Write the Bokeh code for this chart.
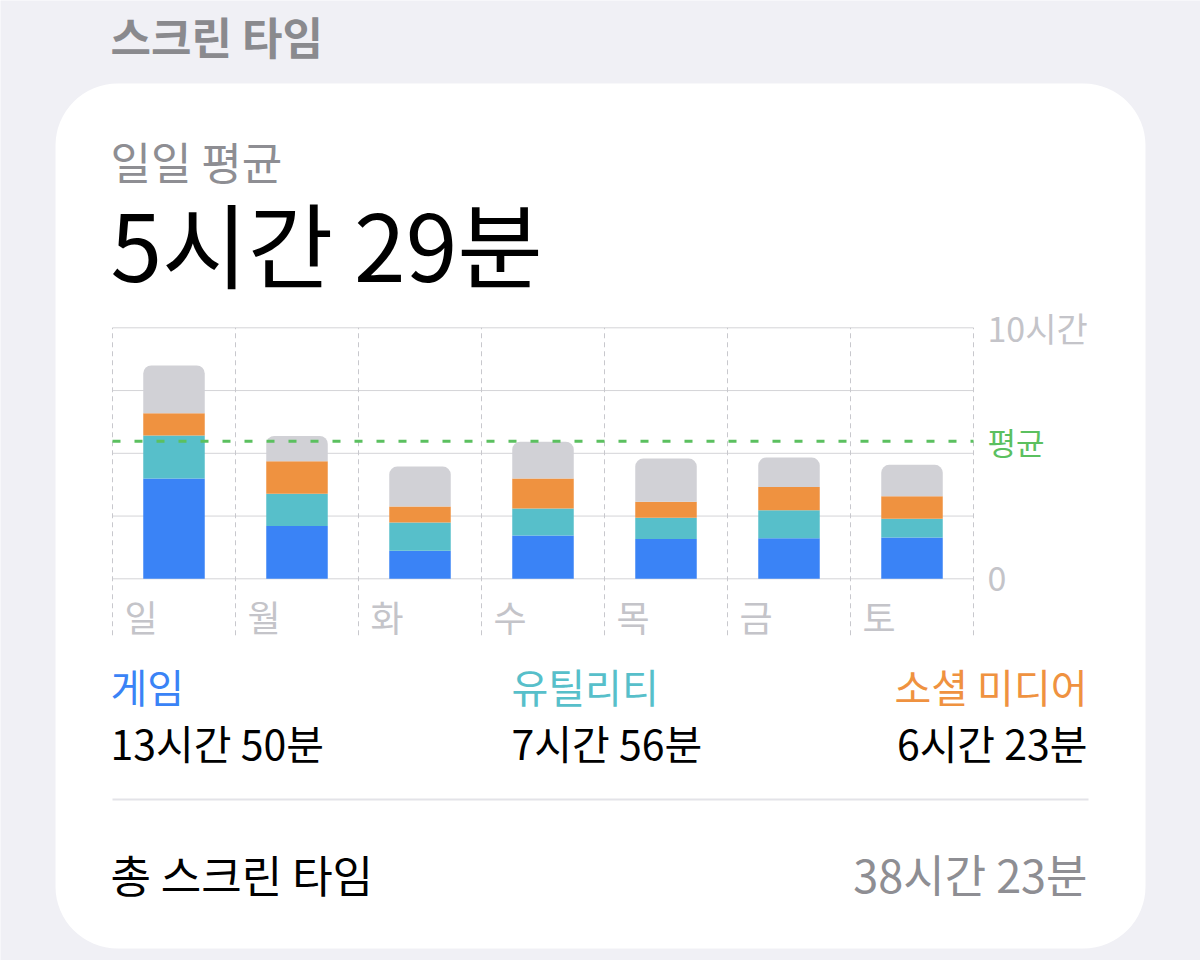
from bokeh.plotting import figure
from bokeh.models import Range1d, Grid, ColumnDataSource
from bokeh.core.properties import value
from bokeh.embed import file_html
from bokeh.resources import INLINE

# ---------------- data ----------------
days = ["일", "월", "화", "수", "목", "금", "토"]
game = [4.00, 2.10, 1.12, 1.73, 1.59, 1.62, 1.65]      # 게임 (hours)
util = [1.71, 1.29, 1.12, 1.07, 0.84, 1.11, 0.74]      # 유틸리티
social = [0.89, 1.29, 0.64, 1.20, 0.64, 0.93, 0.90]    # 소셜 미디어
other = [1.90, 1.01, 1.59, 1.46, 1.72, 1.17, 1.25]     # 기타
avg_hours = 5 + 29 / 60
avg_label = "평균"
y_ticks = [0, 10]
y_tick_labels = ["0", "10시간"]
grid_hours = [0, 2.5, 5, 7.5, 10]
categories = ["게임", "유틸리티", "소셜 미디어"]
category_totals = ["13시간 50분", "7시간 56분", "6시간 23분"]
title = "스크린 타임"
avg_title = "일일 평균"
avg_text = "5시간 29분"
total_title = "총 스크린 타임"
total_text = "38시간 23분"

# ---------------- style / layout ----------------
FONT = "Noto Sans CJK KR"
BG = "#F0F0F5"
BLUE = "#3A83F6"
TEAL = "#57BFCA"
ORANGE = "#EF9240"
GRAY = "#D1D1D6"
GREEN = "#5BC05F"
LABEL_GRAY = "#C4C4C9"

W, H = 1200, 960
CHART_LEFT = 112.0     # px of first day boundary
COL = 123.0            # px per day column
BASE = 578.3           # px of 0 hours
PPH = 25.1             # px per hour

p = figure(width=W, height=H, output_backend="svg", toolbar_location=None,
           x_range=Range1d(0, W), y_range=Range1d(0, H),
           x_axis_location=None, y_axis_location=None,
           min_border=0, border_fill_color=BG, background_fill_color=BG,
           outline_line_color=None)
p.center = [c for c in p.center if not isinstance(c, Grid)]
p.extra_x_ranges = {"days": Range1d(-CHART_LEFT / COL, (W - CHART_LEFT) / COL)}
p.extra_y_ranges = {"hours": Range1d(-(H - BASE) / PPH, BASE / PPH)}
CH = dict(x_range_name="days", y_range_name="hours")


def Y(py):
    return H - py


# card
p.quad(left=[55], right=[1145], top=[Y(83)], bottom=[Y(948)],
       fill_color="white", line_color=None, border_radius=62)

# grid lines (chart)
n = len(days)
p.segment(x0=[0] * len(grid_hours), x1=[n] * len(grid_hours),
          y0=grid_hours, y1=grid_hours, line_color="#D4D4D8", line_width=1, **CH)
p.segment(x0=list(range(n + 1)), x1=list(range(n + 1)),
          y0=[-2.25] * (n + 1), y1=[grid_hours[-1]] * (n + 1),
          line_color="#C8C8CD", line_width=1, line_dash="5 4", **CH)

# bars
source = ColumnDataSource(dict(
    x=[i + 0.5 for i in range(n)],
    x0=list(range(n)),
    day=days, game=game, util=util, social=social, other=other,
))
rs = p.vbar_stack(["game", "util", "social", "other"], x="x", width=0.5,
                  color=[BLUE, TEAL, ORANGE, GRAY], line_width=0,
                  source=source, **CH)
rs[-1].glyph.border_radius = (8, 8, 0, 0)

# day labels
p.text(x="x0", y=-1.5, text="day", source=source, x_offset=12,
       text_baseline="middle", text_align="left",
       text_font=value(FONT), text_font_size="36px", text_color=LABEL_GRAY, **CH)

# right-side hour labels
p.text(x=[n] * len(y_ticks), y=y_ticks, text=y_tick_labels, x_offset=14,
       text_baseline="middle", text_align="left",
       text_font=value(FONT), text_font_size="34px", text_color=LABEL_GRAY, **CH)

# average line + label
p.segment(x0=[0], x1=[n], y0=[avg_hours], y1=[avg_hours], line_color=GREEN,
          line_width=3, line_dash="8 14", **CH)
p.text(x=[n], y=[avg_hours], text=[avg_label], x_offset=14,
       text_baseline="middle", text_align="left",
       text_font=value(FONT), text_font_size="31px", text_color=GREEN, **CH)


def add_text(px, py, text, size, color, align="left", style="normal"):
    p.text(x=[px], y=[Y(py)], text=[text], text_font=value(FONT),
           text_font_size=size, text_color=color, text_align=align,
           text_baseline="middle", text_font_style=style)


add_text(110, 35, title, "44px", "#8A8A8E", style="bold")
add_text(110, 160, avg_title, "44px", "#8E8E93")
add_text(110, 241, avg_text, "93px", "#000000")

cat_colors = [BLUE, TEAL, ORANGE]
cat_x = [110, 511, 1087]
cat_align = ["left", "left", "right"]
for name, tot, c, xx, al in zip(categories, category_totals, cat_colors, cat_x, cat_align):
    add_text(xx, 685, name, "40px", c, align=al)
    add_text(xx, 741, tot, "41px", "#000000", align=al)

# separator
p.segment(x0=[112], x1=[1088], y0=[Y(799)], y1=[Y(799)],
          line_color="#E3E3E8", line_width=2)

add_text(110, 873, total_title, "44px", "#000000")
add_text(1087, 873, total_text, "45px", "#8E8E93", align="right")

open("out.html", "w").write(file_html(p, INLINE))
